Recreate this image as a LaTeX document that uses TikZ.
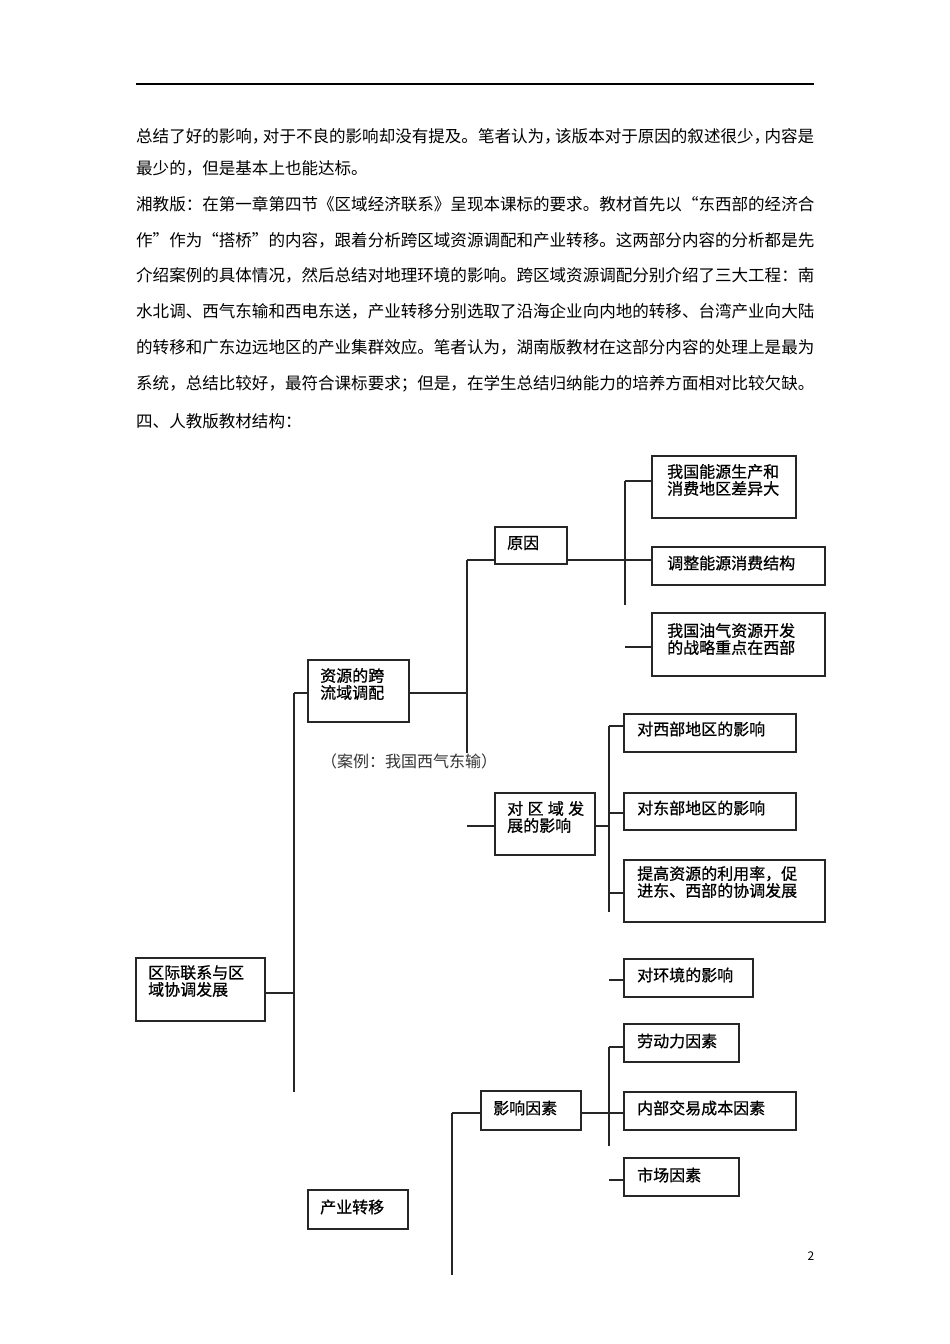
\documentclass[tikz,border=0pt]{standalone}
\usepackage{fontspec}
\setmainfont{Noto Sans CJK SC}
\newfontfamily\bxf{Noto Sans CJK SC}[FakeBold=0.8]
\tikzset{
  bx/.style={draw=black!85, line width=1.2pt, inner sep=0pt, outer sep=0pt, anchor=north west},
  bt/.style={anchor=west, inner sep=0pt, align=left, font=\bxf\fontsize{16}{17}\selectfont},
  ln/.style={draw=black!85, line width=1.1pt},
  body/.style={anchor=west, inner sep=0pt, font=\fontsize{16.54}{20}\selectfont},
}
\newcommand\jl[1]{\makebox[678pt][l]{#1}}
\newcommand\hc{\makebox[11pt][l]{，}}
% name, x1, y1, x2, y2
\newcommand\mkbox[5]{\node[bx, minimum width={(#4-#2)*1pt}, minimum height={(#5-#3)*1pt}] (#1) at (#2,#3) {};}
\begin{document}
\begin{tikzpicture}[x=1pt,y=-1pt]
\useasboundingbox[fill=white] (0,0) rectangle (950,1344);
% header rule
\coordinate (hl) at (136,84);
\coordinate (hr) at (814,84);
\draw[line width=1.2pt] (hl) -- (hr);
% body text
\node[body] (t1) at (136,136) {\jl{总结了好的影响\hc 对于不良的影响却没有提及。笔者认为\hc 该版本对于原因的叙述很少\hc 内容是}};
\node[body] (t2) at (136,168) {最少的，但是基本上也能达标。};
\node[body] (t3) at (136,204) {\jl{湘教版：在第一章第四节《区域经济联系》呈现本课标的要求。教材首先以“东西部的经济合}};
\node[body] (t4) at (136,240) {\jl{作”作为“搭桥”的内容，跟着分析跨区域资源调配和产业转移。这两部分内容的分析都是先}};
\node[body] (t5) at (136,275) {\jl{介绍案例的具体情况，然后总结对地理环境的影响。跨区域资源调配分别介绍了三大工程：南}};
\node[body] (t6) at (136,311) {\jl{水北调、西气东输和西电东送，产业转移分别选取了沿海企业向内地的转移、台湾产业向大陆}};
\node[body] (t7) at (136,347) {\jl{的转移和广东边远地区的产业集群效应。笔者认为，湖南版教材在这部分内容的处理上是最为}};
\node[body] (t8) at (136,384) {\jl{系统，总结比较好，最符合课标要求；但是，在学生总结归纳能力的培养方面相对比较欠缺。}};
\node[body] (t9) at (136,421) {四、人教版教材结构：};
% boxes
\mkbox{b1}{495}{527}{567}{564}
\mkbox{b2}{652}{456}{796}{518}
\mkbox{b3}{652}{547}{825}{585}
\mkbox{b4}{652}{613}{825}{676}
\mkbox{b5}{308}{660}{409}{722}
\mkbox{b6}{624}{714}{796}{752}
\mkbox{b7}{495}{793}{595}{855}
\mkbox{b8}{624}{793}{796}{830}
\mkbox{b9}{624}{860}{825}{922}
\mkbox{b10}{624}{959}{753}{997}
\mkbox{b11}{136}{958}{265}{1021}
\mkbox{b12}{624}{1024}{739}{1062}
\mkbox{b13}{481}{1091}{581}{1130}
\mkbox{b14}{624}{1092}{796}{1130}
\mkbox{b15}{624}{1158}{739}{1196}
\mkbox{b16}{308}{1190}{408}{1229}
% box texts
\node[bt] (l1) at (507,543) {原因};
\node[bt] (l2) at (667,480) {我国能源生产和\\消费地区差异大};
\node[bt] (l3) at (667,563) {调整能源消费结构};
\node[bt] (l4) at (667,639) {我国油气资源开发\\的战略重点在西部};
\node[bt] (l5) at (320,684) {资源的跨\\流域调配};
\node[bt] (l6) at (637,729) {对西部地区的影响};
\node[bt] (l7) at (507,817) {\makebox[77pt][s]{对 区 域 发}\\展的影响};
\node[bt] (l8) at (637,808) {对东部地区的影响};
\node[bt] (l9) at (637,882) {提高资源的利用率，促\\进东、西部的协调发展};
\node[bt] (l10) at (637,975) {对环境的影响};
\node[bt] (l11) at (148,981) {区际联系与区\\域协调发展};
\node[bt] (l12) at (637,1041) {劳动力因素};
\node[bt] (l13) at (493,1108) {影响因素};
\node[bt] (l14) at (637,1108) {内部交易成本因素};
\node[bt] (l15) at (637,1175) {市场因素};
\node[bt] (l16) at (320,1207) {产业转移};
% case note and page number
\node[anchor=west, inner sep=0pt, font=\fontsize{16}{18}\selectfont, text=black!80] (case) at (321,761) {（案例：我国西气东输）};
\node[anchor=center, inner sep=0pt, font=\fontsize{12}{14}\selectfont] (pg) at (811,1256) {2};
% junction coordinates
\coordinate (v1a) at (294,693);
\coordinate (v1b) at (294,1092);
\coordinate (v2a) at (467,560);
\coordinate (v2b) at (467,753);
\coordinate (v3a) at (625,481);
\coordinate (v3b) at (625,605);
\coordinate (s4) at (625,647);
\coordinate (s7) at (467,826);
\coordinate (v5a) at (609,726);
\coordinate (v5b) at (609,912);
\coordinate (j7) at (609,826);
\coordinate (s8) at (609,813);
\coordinate (s9) at (609,893);
\coordinate (s10) at (609,980);
\coordinate (v6a) at (609,1047);
\coordinate (v6b) at (609,1146);
\coordinate (s15) at (609,1180);
\coordinate (v7a) at (452,1113);
\coordinate (v7b) at (452,1275);
% connectors
\draw[ln] (b11.east |- 0,993) -- (v1a |- 0,993);
\draw[ln] (v1a) -- (v1b);
\draw[ln] (v1a) -- (b5.west |- v1a);
\draw[ln] (b5.east |- v1a) -- (v2a |- v1a);
\draw[ln] (v2a) -- (v2b);
\draw[ln] (v2a) -- (b1.west |- v2a);
\draw[ln] (b1.east |- v2a) -- (b3.west |- v2a);
\draw[ln] (v3a) -- (v3b);
\draw[ln] (v3a) -- (b2.west |- v3a);
\draw[ln] (s4) -- (b4.west |- s4);
\draw[ln] (s7) -- (b7.west |- s7);
\draw[ln] (b7.east |- j7) -- (j7);
\draw[ln] (v5a) -- (v5b);
\draw[ln] (v5a) -- (b6.west |- v5a);
\draw[ln] (s8) -- (b8.west |- s8);
\draw[ln] (s9) -- (b9.west |- s9);
\draw[ln] (s10) -- (b10.west |- s10);
\draw[ln] (v6a) -- (v6b);
\draw[ln] (v6a) -- (b12.west |- v6a);
\draw[ln] (b13.east |- v7a) -- (b14.west |- v7a);
\draw[ln] (s15) -- (b15.west |- s15);
\draw[ln] (v7a) -- (v7b);
\draw[ln] (v7a) -- (b13.west |- v7a);
\end{tikzpicture}
\end{document}
